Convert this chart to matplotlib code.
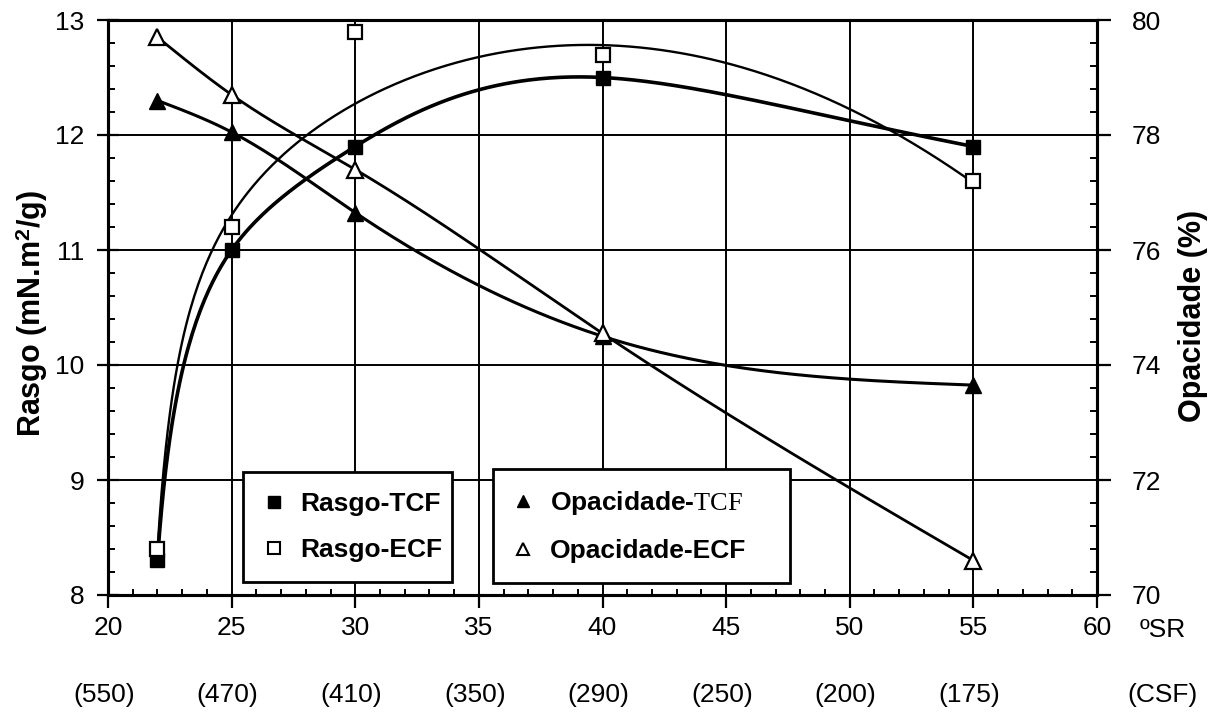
import numpy as np
import matplotlib
matplotlib.use("Agg")
import matplotlib.pyplot as plt
from matplotlib.lines import Line2D
from matplotlib.ticker import MultipleLocator, FixedLocator

# ---------------- data ----------------
sr = [22, 25, 30, 40, 55]                      # ºSR
rasgo_tcf = [8.3, 11.0, 11.9, 12.5, 11.9]      # mN.m2/g
rasgo_ecf = [8.4, 11.2, 12.9, 12.7, 11.6]
opac_tcf = [78.6, 78.05, 76.65, 74.5, 73.65]   # %
opac_ecf = [79.7, 78.7, 77.4, 74.55, 70.6]
sr_ticks = [20, 25, 30, 35, 40, 45, 50, 55, 60]
csf_labels = ["(550)", "(470)", "(410)", "(350)", "(290)", "(250)", "(200)", "(175)"]
ecf_fit_weights = [1, 1, 0.5, 1, 1]            # trend-line weighting of the ECF points

plt.rcParams['mathtext.fontset'] = 'custom'
plt.rcParams['mathtext.rm'] = 'Liberation Serif'
plt.rcParams['mathtext.it'] = 'Liberation Serif:italic'
plt.rcParams['mathtext.bf'] = 'Liberation Sans:bold'

TICKFONT = ['Liberation Sans Narrow', 'Liberation Sans', 'DejaVu Sans']
BOLDFONT = ['Liberation Sans', 'DejaVu Sans']


def nat_spline(t, y, ts):
    t = np.asarray(t, float); y = np.asarray(y, float)
    n = len(t); h = np.diff(t)
    A = np.zeros((n, n)); r = np.zeros(n)
    A[0, 0] = A[-1, -1] = 1
    for i in range(1, n - 1):
        A[i, i - 1] = h[i - 1]; A[i, i] = 2 * (h[i - 1] + h[i]); A[i, i + 1] = h[i]
        r[i] = 6 * ((y[i + 1] - y[i]) / h[i] - (y[i] - y[i - 1]) / h[i - 1])
    M = np.linalg.solve(A, r)
    k = np.clip(np.searchsorted(t, ts) - 1, 0, n - 2)
    a = t[k + 1] - ts; b = ts - t[k]; hk = h[k]
    return ((M[k] * a ** 3 + M[k + 1] * b ** 3) / (6 * hk)
            + (y[k] / hk - M[k] * hk / 6) * a + (y[k + 1] / hk - M[k + 1] * hk / 6) * b)


def spline_curve(x, y, shift=None, n=400):
    x = np.asarray(x, float)
    xs = np.linspace(x.min(), x.max(), n)
    if shift is None:
        return xs, nat_spline(x, y, xs)
    return xs, nat_spline(np.log(x - shift), y, np.log(xs - shift))


def trend_curve(x, y, w=None, n=400):
    """weighted least-squares trend: a + b x + c x^2 + d/(x-21)"""
    x = np.asarray(x, float); y = np.asarray(y, float)
    w = np.ones_like(x) if w is None else np.asarray(w, float)
    funcs = [np.ones_like, lambda v: v, lambda v: v ** 2, lambda v: 1 / (v - 21)]
    A = np.column_stack([f(x) for f in funcs]) * w[:, None]
    c, *_ = np.linalg.lstsq(A, y * w, rcond=None)
    xs = np.linspace(x.min(), x.max(), n)
    return xs, np.column_stack([f(xs) for f in funcs]) @ c


fig = plt.figure(figsize=(12.17, 7.13), dpi=100)
L, R, T, B = 108, 1097, 20, 595
ax = fig.add_axes([L / 1217, 1 - B / 713, (R - L) / 1217, (B - T) / 713])
ax2 = ax.twinx()

ax.set_xlim(20, 60)
ax.set_ylim(8, 13)
ax2.set_ylim(70, 80)

ax.set_axisbelow(True)
ax.grid(True, which='major', color='black', lw=1.4)

# Rasgo curves
ax.plot(*spline_curve(sr, rasgo_tcf, shift=21.5), color='black', lw=2.6, zorder=3)
ax.plot(*trend_curve(sr, rasgo_ecf, ecf_fit_weights), color='black', lw=1.7, zorder=3)
ax.plot(sr, rasgo_tcf, ls='none', marker='s', ms=10, mfc='black', mec='black', zorder=4)
ax.plot(sr, rasgo_ecf, ls='none', marker='s', ms=10, mfc='white', mec='black', mew=1.6, zorder=4)

# Opacidade curves
ax2.plot(*spline_curve(sr, opac_tcf), color='black', lw=2.2, zorder=3)
ax2.plot(*spline_curve(sr, opac_ecf), color='black', lw=2.0, zorder=3)
ax2.plot(sr, opac_tcf, ls='none', marker='^', ms=11, mfc='black', mec='black', zorder=4)
ax2.plot(sr, opac_ecf, ls='none', marker='^', ms=11, mfc='white', mec='black', mew=1.6, zorder=4)

for a in (ax, ax2):
    for s in a.spines.values():
        s.set_linewidth(2.2)

# ticks
ax.xaxis.set_major_locator(FixedLocator(sr_ticks))
ax.xaxis.set_minor_locator(MultipleLocator(1))
ax.yaxis.set_major_locator(MultipleLocator(1))
ax.yaxis.set_minor_locator(MultipleLocator(0.2))
ax2.yaxis.set_major_locator(MultipleLocator(2))
ax2.yaxis.set_minor_locator(MultipleLocator(0.4))

ax.tick_params(axis='x', which='major', direction='out', length=9, width=1.6, pad=6)
ax.tick_params(axis='x', which='minor', direction='in', length=4, width=1.4)
ax.tick_params(axis='y', which='major', direction='inout', length=16, width=1.6, pad=9)
ax.tick_params(axis='y', which='minor', direction='in', length=5, width=1.4)
ax2.tick_params(axis='y', which='major', direction='out', length=10, width=1.6, pad=15)
ax2.tick_params(axis='y', which='minor', direction='in', length=5, width=1.4)

ax.set_xticklabels([str(v) for v in sr_ticks])
for lab in ax.get_xticklabels() + ax.get_yticklabels() + ax2.get_yticklabels():
    lab.set_fontfamily(TICKFONT)
    lab.set_fontsize(19)

# second row of x labels (CSF)
for v, lab in zip(sr_ticks, csf_labels):
    ax.annotate(lab, xy=(v, 0), xycoords=('data', 'axes fraction'),
                xytext=(-3, -72), textcoords='offset points',
                ha='center', va='center', fontsize=19, family=TICKFONT)
ax.annotate("ºSR", xy=(1, 0), xycoords='axes fraction', xytext=(47, -25),
            textcoords='offset points', ha='center', va='center',
            fontsize=19, family=TICKFONT)
ax.annotate("(CSF)", xy=(1, 0), xycoords='axes fraction', xytext=(47, -72),
            textcoords='offset points', ha='center', va='center',
            fontsize=19, family=TICKFONT)

# axis labels
ax.set_ylabel("Rasgo (mN.m$^\\mathbf{2}$/g)", fontsize=22, fontweight='bold',
              family=BOLDFONT)
ax.yaxis.set_label_coords(-0.0586, 0.489)
ax2.set_ylabel("Opacidade (%)", fontsize=22, fontweight='bold', family=BOLDFONT)
ax2.yaxis.set_label_coords(1.082, 0.485)

# legends
leg_font = dict(family=BOLDFONT, weight='bold', size=19)
common = dict(loc='lower left', mode='expand', prop=leg_font, frameon=True,
              fancybox=False, edgecolor='black', framealpha=1,
              handlelength=0.8, handletextpad=0.6, labelspacing=0.83,
              borderpad=0.76, borderaxespad=0)
h1 = [Line2D([], [], ls='none', marker='s', ms=9, mfc='black', mec='black'),
      Line2D([], [], ls='none', marker='s', ms=9, mfc='white', mec='black', mew=1.5)]
leg1 = ax2.legend(h1, ["Rasgo-TCF", "Rasgo-ECF"],
                  bbox_to_anchor=(0.1365, 0.0226, 0.2115, 0.2), **common)
leg1.get_frame().set_linewidth(2.0)
ax2.add_artist(leg1)
h2 = [Line2D([], [], ls='none', marker='^', ms=9, mfc='black', mec='black'),
      Line2D([], [], ls='none', marker='^', ms=9, mfc='white', mec='black', mew=1.5)]
leg2 = ax2.legend(h2, ["Opacidade-$\\mathrm{TCF}$", "Opacidade-ECF"],
                  bbox_to_anchor=(0.389, 0.021, 0.301, 0.2), **common)
leg2.get_frame().set_linewidth(2.0)
leg1.set_zorder(10)
leg2.set_zorder(10)

fig.savefig("out.png", dpi=100)
